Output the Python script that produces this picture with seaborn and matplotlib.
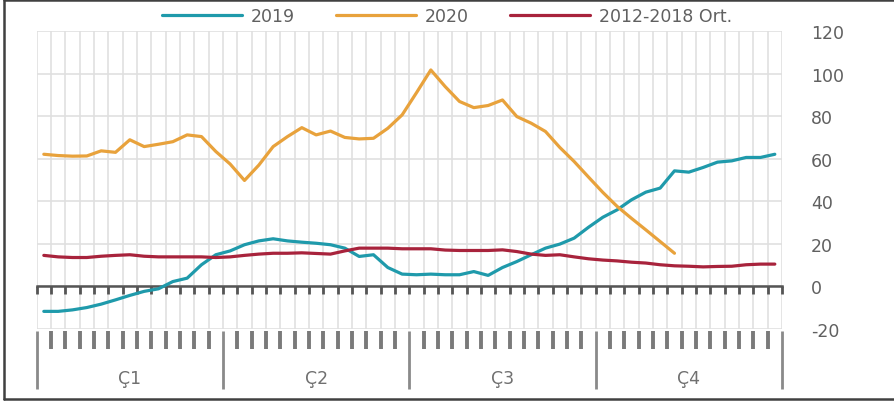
import numpy as np
import seaborn as sns
import matplotlib.pyplot as plt
from matplotlib.lines import Line2D

# weekly values
weeks = list(range(52))
y2019 = [-11.7, -11.7, -11.0, -9.9, -8.3, -6.3, -4.2, -2.3, -1.1, 2.3, 3.9, 10.2, 14.9, 16.7,
         19.6, 21.4, 22.4, 21.4, 20.8, 20.3, 19.6, 18.0, 14.1, 14.9, 8.9, 5.8, 5.5,
         5.8, 5.5, 5.5, 7.0, 5.2, 8.9, 11.7, 14.9, 18.0, 19.9, 22.7, 27.8, 32.5,
         36.0, 40.7, 44.3, 46.2, 54.3, 53.7, 55.9, 58.4, 59.0, 60.6, 60.6, 62.1]
y2020 = [62.1, 61.5, 61.2, 61.3, 63.7, 63.0, 68.9, 65.7, 66.8, 68.0, 71.2, 70.4, 63.4, 57.5,
         49.8, 57.0, 65.7, 70.4, 74.6, 71.2, 73.0, 70.0, 69.3, 69.6, 74.3, 80.6, 91.0,
         101.7, 93.9, 86.9, 84.0, 85.0, 87.6, 79.8, 76.7, 72.8, 65.3, 58.7, 51.4, 44.2,
         37.6, 32.0, 26.6, 21.1, 15.6]
y_avg = [14.6, 13.9, 13.6, 13.6, 14.2, 14.6, 14.9, 14.2, 13.9, 13.9, 13.9, 13.9, 13.6, 13.9,
         14.6, 15.2, 15.6, 15.6, 15.8, 15.5, 15.2, 16.7, 18.0, 18.0, 18.0, 17.7, 17.7,
         17.7, 17.1, 16.9, 16.9, 16.9, 17.2, 16.4, 15.2, 14.6, 14.9, 13.9, 13.0, 12.4,
         12.0, 11.4, 11.0, 10.2, 9.7, 9.5, 9.2, 9.4, 9.5, 10.2, 10.5, 10.5]
series_names = ['2019', '2020', '2012-2018 Ort.']
series_colors = ['#1f9aab', '#e8a23c', '#a8233c']
quarters = ['Ç1', 'Ç2', 'Ç3', 'Ç4']
yticks = [-20, 0, 20, 40, 60, 80, 100, 120]

sns.set_theme(style='white')
plt.rcParams['font.family'] = ['DejaVu Sans']
plt.rcParams['axes.unicode_minus'] = False

fig = plt.figure(figsize=(8.94, 4.02), dpi=100)
ax = fig.add_axes([0.041, 0.179, 0.8337, 0.7414])

for name, vals, col in zip(series_names, [y2019, y2020, y_avg], series_colors):
    sns.lineplot(x=weeks[:len(vals)], y=vals, ax=ax, color=col, linewidth=2.3,
                 label=name, zorder=4)

ax.set_xlim(-0.5, 51.5)
ax.set_ylim(-20, 120)
ax.set_yticks(yticks)
ax.yaxis.tick_right()
ax.tick_params(axis='y', length=0, pad=21, labelsize=12.5, labelcolor='#606060')

# week boundaries: gridlines + short ticks on the zero line
bounds = np.arange(-0.5, 52, 1)
ax.set_xticks(bounds)
ax.set_xticklabels([])
ax.tick_params(axis='x', bottom=True, direction='out', length=6, width=2, color='#555555')
ax.grid(True, color='#e0e0e0', linewidth=1.2)
ax.set_axisbelow(True)
for s in ['top', 'left', 'right']:
    ax.spines[s].set_visible(False)
ax.spines['bottom'].set_position(('data', 0))
ax.spines['bottom'].set_color('#555555')
ax.spines['bottom'].set_linewidth(1.8)
ax.spines['bottom'].set_zorder(3)

# lower category axis with quarters
sec = ax.secondary_xaxis(-0.005)
sec.set_xticks([-0.5, 12.5, 25.5, 38.5, 51.5])
sec.set_xticks(bounds, minor=True)
sec.set_xticklabels([])
sec.tick_params(which='major', length=42, width=2, color='#8a8a8a', direction='out')
sec.tick_params(which='minor', length=13, width=2.8, color='#7a7a7a', direction='out')
sec.spines['bottom'].set_visible(False)
for i, q in enumerate(quarters):
    ax.text(i * 13 + 6, -0.165, q, transform=ax.get_xaxis_transform(),
            ha='center', va='center', fontsize=12.5, color='#707070')

ax.get_legend().remove()
handles, labels = ax.get_legend_handles_labels()
fig.legend(handles, labels, loc='center', bbox_to_anchor=(0.5, 0.958), ncol=3,
           frameon=False, handlelength=4.6, handletextpad=0.5, columnspacing=2.4,
           fontsize=12.5, labelcolor='#606060')

# outer frame (left, top, bottom)
frame = dict(transform=fig.transFigure, color='#404040', linewidth=1.8)
fig.lines.append(Line2D([0.004, 0.004], [0.005, 0.997], **frame))
fig.lines.append(Line2D([0.004, 1.0], [0.997, 0.997], **frame))
fig.lines.append(Line2D([0.004, 1.0], [0.006, 0.006], **frame))

fig.savefig('out.png', dpi=100)
